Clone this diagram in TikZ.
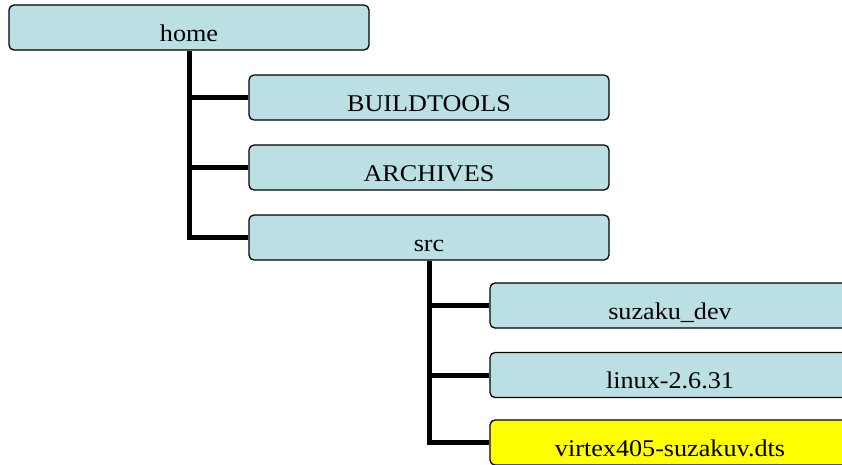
\documentclass[tikz,border=0pt]{standalone}
\usepackage{fontspec}
\setmainfont{Liberation Serif}
\definecolor{boxcyan}{RGB}{186,224,227}
\definecolor{boxyellow}{RGB}{255,255,0}
\tikzset{
  dirbox/.style={draw=black, line width=1.3pt, rounded corners=5pt, fill=boxcyan,
    minimum width=360pt, minimum height=45pt, inner sep=0pt,
    text height=27pt, text depth=0pt,
    font=\fontsize{24}{28}\selectfont},
  filebox/.style={dirbox, fill=boxyellow},
  conn/.style={draw=black, line width=5pt}
}
\newcommand{\wlabel}[1]{\scalebox{1.09}[1]{#1}}
\begin{document}
\begin{tikzpicture}[x=1pt,y=-1pt]
  \useasboundingbox (0,0) rectangle (842,464);
  \clip (0,0) rectangle (842,464);
  % directory tree
  \node[dirbox] (home)  at (189,27.5)  {\wlabel{home}};
  \node[dirbox] (build) at (429,97.5)  {\wlabel{BUILDTOOLS}};
  \node[dirbox] (arch)  at (429,167.5) {\wlabel{ARCHIVES}};
  \node[dirbox] (src)   at (429,237.5) {\wlabel{src}};
  \node[dirbox] (suz)   at (670,305.5) {\wlabel{suzaku\_dev}};
  \node[dirbox] (lin)   at (670,375)   {\wlabel{linux-2.6.31}};
  \node[filebox] (dts)  at (670,442.5) {\wlabel{virtex405-suzakuv.dts}};
  % branches
  \draw[conn] (home.south) |- (build.west);
  \draw[conn] (home.south) |- (arch.west);
  \draw[conn] (home.south) |- (src.west);
  \draw[conn] (src.south) |- (suz.west);
  \draw[conn] (src.south) |- (lin.west);
  \draw[conn] (src.south) |- (dts.west);
\end{tikzpicture}
\end{document}
